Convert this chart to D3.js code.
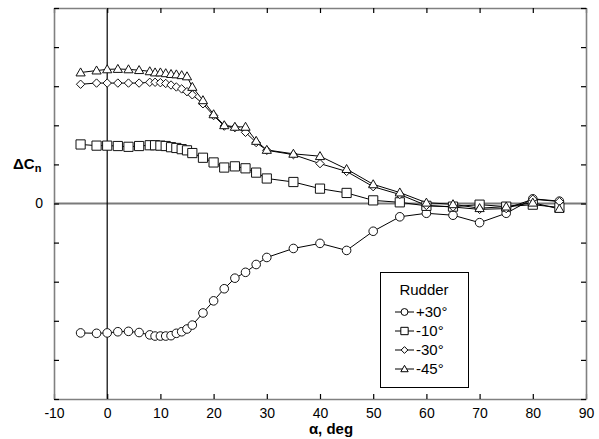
<!DOCTYPE html>
<html>
<head>
<meta charset="utf-8">
<script src="https://cdn.jsdelivr.net/npm/d3@7"></script>
<style>
  body { margin: 0; background: #fff; }
  svg { display: block; font-family: "Liberation Sans", Arial, Helvetica, sans-serif; }
</style>
</head>
<body>
<svg id="chart" width="599" height="439"></svg>
<script>
const alpha = [-5,-2,0,2,4,6,8,9,10,11,12,13,14,15,16,18,20,22,24,26,28,30,35,40,45,50,55,60,65,70,75,80,85];
const rudderP30 = [-3.31,-3.32,-3.31,-3.28,-3.27,-3.30,-3.36,-3.39,-3.39,-3.39,-3.38,-3.32,-3.28,-3.21,-3.11,-2.80,-2.49,-2.18,-1.91,-1.76,-1.56,-1.38,-1.15,-1.02,-1.20,-0.71,-0.34,-0.25,-0.30,-0.49,-0.25,0.12,0.06];
const rudderM10 = [1.51,1.48,1.48,1.47,1.45,1.47,1.49,1.49,1.48,1.47,1.44,1.42,1.39,1.36,1.29,1.17,1.05,0.92,0.95,0.90,0.79,0.64,0.55,0.38,0.27,0.08,0.03,-0.06,-0.08,-0.03,-0.08,-0.03,-0.10];
const rudderM30 = [3.05,3.08,3.08,3.08,3.08,3.08,3.10,3.10,3.09,3.07,3.03,2.98,2.93,2.86,2.78,2.55,2.25,1.98,1.94,1.82,1.56,1.36,1.25,1.02,0.82,0.43,0.23,-0.05,-0.09,-0.15,-0.13,0.11,0.05];
const rudderM45 = [3.35,3.40,3.43,3.44,3.43,3.41,3.38,3.35,3.35,3.33,3.31,3.30,3.28,3.25,2.98,2.64,2.28,2.00,1.96,1.96,1.60,1.37,1.27,1.21,0.88,0.49,0.28,0.02,-0.02,-0.12,-0.08,0.02,-0.14];
const seriesNames = ["+30°","-10°","-30°","-45°"];
const seriesShapes = ["circle","square","diamond","triangle"];
const xTicks = [-10,0,10,20,30,40,50,60,70,80,90];
const yTicks = [-5,-4,-3,-2,-1,0,1,2,3,4,5];

const svg = d3.select("#chart");
const x = d3.scaleLinear().domain([-10, 90]).range([54, 586]);
const y = d3.scaleLinear().domain([-5, 5]).range([399, 8]);

const allSeries = [rudderP30, rudderM10, rudderM30, rudderM45].map((vals, i) => ({
  name: seriesNames[i], shape: seriesShapes[i],
  pts: alpha.map((a, j) => [a, vals[j]])
}));

function shapePath(shape, s) {
  s = s || 1;
  if (shape === "circle") { const r = 4.3*s; return `M${r},0A${r},${r} 0 1,1 ${-r},0A${r},${r} 0 1,1 ${r},0Z`; }
  if (shape === "square") { const h = 4.6*s; return `M${-h},${-h}H${h}V${h}H${-h}Z`; }
  if (shape === "diamond") { const h = 4.2*s; return `M0,${-h}L${h},0L0,${h}L${-h},0Z`; }
  const w = 4.6*s; return `M0,${-4.6*s}L${w},${3.4*s}L${-w},${3.4*s}Z`;
}

// zero line
svg.append("line").attr("x1", x(-10)).attr("x2", x(90)).attr("y1", y(0)).attr("y2", y(0))
  .attr("stroke", "#7a7a7a").attr("stroke-width", 1.8);
// alpha = 0 line
svg.append("line").attr("x1", x(0)).attr("x2", x(0)).attr("y1", y(5)).attr("y2", y(-5))
  .attr("stroke", "#000").attr("stroke-width", 1.2);

// axes (ticks inward on all four sides)
function styleAxis(g) {
  g.select(".domain").attr("stroke", "#808080").attr("stroke-width", 1.6);
  g.selectAll(".tick line").attr("stroke", "#000").attr("stroke-width", 1.2);
  g.selectAll("text").attr("font-size", 14).attr("fill", "#000").attr("font-family", "Liberation Sans, Arial, sans-serif");
}
svg.append("g").attr("transform", `translate(0,${y(-5)})`)
  .call(d3.axisBottom(x).tickValues(xTicks).tickSize(-5).tickSizeOuter(0).tickPadding(9).tickFormat(d => String(d)))
  .call(styleAxis);
svg.append("g").attr("transform", `translate(0,${y(5)})`)
  .call(d3.axisTop(x).tickValues(xTicks).tickSize(-5).tickSizeOuter(0).tickFormat(""))
  .call(styleAxis);
svg.append("g").attr("transform", `translate(${x(-10)},0)`)
  .call(d3.axisLeft(y).tickValues(yTicks).tickSize(-5).tickSizeOuter(0).tickPadding(11).tickFormat(d => d === 0 ? "0" : ""))
  .call(styleAxis);
svg.append("g").attr("transform", `translate(${x(90)},0)`)
  .call(d3.axisRight(y).tickValues(yTicks).tickSize(-5).tickSizeOuter(0).tickFormat(""))
  .call(styleAxis);

// lines
const line = d3.line().x(d => x(d[0])).y(d => y(d[1]));
allSeries.forEach(s => {
  svg.append("path").attr("d", line(s.pts)).attr("fill", "none").attr("stroke", "#000").attr("stroke-width", 1);
});
// markers
allSeries.forEach(s => {
  svg.append("g").selectAll("path").data(s.pts).join("path")
    .attr("transform", d => `translate(${x(d[0])},${y(d[1])})`)
    .attr("d", shapePath(s.shape))
    .attr("fill", "#fff").attr("stroke", "#111").attr("stroke-width", 1);
});

// axis titles
svg.append("text").attr("x", 331).attr("y", 434).attr("text-anchor", "middle")
  .attr("font-size", 15).attr("font-weight", "bold").text("α, deg");
const yl = svg.append("text").attr("x", 13).attr("y", 169).attr("font-size", 15).attr("font-weight", "bold");
yl.append("tspan").text("ΔC");
yl.append("tspan").attr("font-size", 11).attr("dy", 3).text("n");

// legend
const lg = svg.append("g");
lg.append("rect").attr("x", 380.5).attr("y", 272.5).attr("width", 88).attr("height", 115)
  .attr("fill", "#fff").attr("stroke", "#000").attr("stroke-width", 1);
lg.append("text").attr("x", 424).attr("y", 295).attr("text-anchor", "middle").attr("font-size", 15).text("Rudder");
allSeries.forEach((s, i) => {
  const cy = 312 + i * 19;
  lg.append("line").attr("x1", 395).attr("x2", 414).attr("y1", cy).attr("y2", cy).attr("stroke", "#000").attr("stroke-width", 1);
  lg.append("path").attr("transform", `translate(404.5,${cy})`).attr("d", shapePath(s.shape, 0.8))
    .attr("fill", "#fff").attr("stroke", "#000").attr("stroke-width", 1);
  lg.append("text").attr("x", 416).attr("y", cy + 5).attr("font-size", 15).text(s.name);
});
</script>
</body>
</html>
